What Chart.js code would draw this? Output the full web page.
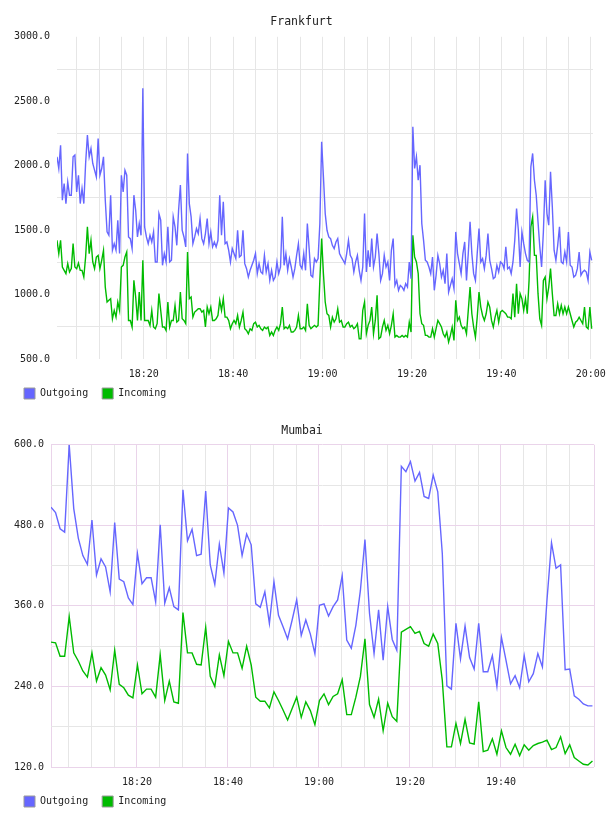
<!DOCTYPE html>
<html>
<head>
<meta charset="utf-8">
<script src="https://cdn.jsdelivr.net/npm/chart.js@4.4.0/dist/chart.umd.min.js"></script>
<style>
  html, body { margin:0; padding:0; background:#fff; overflow:hidden; width:608px; height:816px; }
  .box { position:absolute; left:0; width:608px; height:415px; }
  #boxF { top:0; }
  #boxM { top:408px; }
</style>
</head>
<body>
<div class="box" id="boxF"><canvas id="frankfurt"></canvas></div>
<div class="box" id="boxM"><canvas id="mumbai"></canvas></div>
<script>
/* ---------- data (minutes after 18:00) ---------- */
const SERIES_LABELS = ['Outgoing', 'Incoming'];

// Frankfurt: one sample every 0.4 min starting 18:00.6
const FRA_START = 0.6, FRA_STEP = 0.4;
const fraOutgoing = [
  2069,1978,2159,1732,1861,1706,1874,1771,1771,2069,2082,1797,1926,1706,1823,1706,2017,2237,2069,2133,
  2017,1965,1913,2211,1926,1978,2069,1732,1486,1460,1771,1344,1395,1344,1577,1318,1926,1797,1965,1926,
  1447,1434,1357,1771,1654,1447,1551,1460,2600,1525,1447,1395,1460,1408,1486,1253,1253,1628,1577,1227,
  1318,1253,1525,1253,1266,1603,1525,1382,1654,1849,1499,1447,1370,2095,
  1706,1603,1395,1447,1512,1473,1590,1434,1395,1473,1590,1395,1486,1370,1408,1370,1421,1771,1460,1719,
  1395,1408,1344,1253,1357,1318,1279,1499,1291,1304,1499,1240,1201,1136,1188,1227,1266,1318,1162,1240,
  1175,1162,1304,1175,1240,1110,1188,1110,1136,1253,1162,1214,1603,1227,1318,1188,1279,1214,1136,1201,
  1304,1395,1227,1201,1318,1188,1551,1357,1149,1136,1279,1253,1279,1551,
  2185,1913,1628,1499,1447,1434,1382,1357,1408,1434,1318,1291,1266,1240,1318,1421,1304,1279,1175,1253,
  1304,1188,1110,1214,1628,1175,1344,1214,1434,1214,1291,1473,1318,1110,1162,1304,1214,1253,1110,1344,
  1434,1071,1110,1033,1071,1058,1033,1084,1058,1253,1123,2302,1978,2069,1887,2004,1551,1421,1266,1253,
  1214,1162,1291,1033,1149,1304,1240,1136,1188,1084,1318,1019,1071,1123,1046,
  1486,1318,1240,1162,1318,1408,1110,1318,1564,1318,1162,1110,1318,1512,1253,1279,1201,1304,1473,1266,
  1201,1123,1136,1227,1175,1253,1240,1201,1370,1201,1214,1162,1253,1421,1667,1499,1214,1486,1395,1318,
  1266,1253,1991,2095,1887,1771,1564,1370,1214,1486,1887,1628,1538,1952,1680,1344,1266,1382,1525,1253,
  1240,1330,1253,1486,1227,1214,1136,1149,1201,1330,1149,1175,1188,1175,1110,1330,1266
];
const fraIncoming = [
  1421,1317,1421,1214,1188,1162,1240,1175,1201,1395,1214,1201,1245,1188,1188,1136,1291,1525,1317,1421,
  1253,1201,1291,1304,1201,1266,1343,1058,942,955,968,812,877,825,942,877,1214,1227,1291,1330,
  799,799,748,1110,981,799,1019,799,1266,799,799,799,760,877,748,735,774,1007,877,748,
  748,722,942,748,799,799,916,786,799,1019,812,799,774,1330,
  968,981,825,864,877,890,890,864,877,748,903,851,903,799,799,812,838,955,877,968,
  825,825,799,735,774,799,774,838,748,799,864,735,722,696,735,722,774,786,748,761,
  735,722,748,735,748,683,709,683,722,748,722,774,903,735,748,735,761,709,709,722,
  748,838,735,735,748,722,929,761,735,748,761,748,761,1110,
  1434,1162,942,851,838,748,825,786,812,890,786,799,748,748,774,786,748,761,735,748,
  774,657,657,877,942,696,761,799,903,696,799,994,657,670,748,799,722,761,696,761,
  851,670,683,670,670,683,670,683,670,786,709,1460,1291,1253,1162,851,774,761,683,683,
  670,670,735,670,735,799,774,748,696,670,709,631,683,748,644,
  955,799,825,761,735,748,696,877,1058,851,748,670,825,1019,903,838,799,851,942,903,
  799,748,825,877,786,864,877,864,851,825,825,812,1007,825,1084,851,1007,968,877,968,
  851,1110,1525,1602,1304,1304,1007,812,761,1110,1136,968,1058,1201,1007,838,838,929,851,916,
  851,903,851,903,851,799,748,786,799,825,799,774,903,748,735,903,735
];

// Mumbai: one sample per minute starting 18:01
const MUM_START = 1.1, MUM_STEP = 1;
const mumOutgoing = [
  507,499,475,470,600,505,461,435,422,488,406,430,418,381,484,400,396,372,362,438,
  393,402,402,366,481,364,387,359,354,533,457,474,435,437,531,421,392,452,409,506,
  500,480,435,467,451,363,358,381,334,396,346,329,311,339,369,316,339,318,289,361,
  363,345,359,369,405,309,297,331,383,459,349,289,354,279,359,310,294,568,560,575,
  546,559,523,520,555,530,438,241,236,334,281,330,283,266,334,262,262,286,240,313,
  279,244,256,238,286,247,259,289,269,368,454,416,421,265,266,226,221,214,211,211
];
const mumIncoming = [
  306,305,285,285,344,290,278,263,254,290,248,268,257,235,294,243,238,227,223,272,
  229,236,236,224,287,219,248,217,215,350,290,290,273,272,328,255,240,287,256,307,
  290,290,267,300,272,224,218,218,208,232,219,205,190,207,224,194,217,204,183,219,
  229,213,225,229,250,198,198,224,255,311,213,194,221,174,215,195,188,321,325,329,
  319,322,304,300,318,304,249,150,150,185,155,191,156,154,217,143,145,162,139,174,
  149,139,154,137,153,145,152,155,157,160,146,149,165,140,153,134,129,124,123,129
];

// axes
const FRA_Y = { min: 500, max: 3000, step: 250, labelEvery: 500 };
const MUM_Y = { min: 120, max: 600, step: 60, labelEvery: 120 };
const X_GRID_STEP = 5, X_LABEL_EVERY = 20;

/* ---------- helpers ---------- */
const BLUE = '#6666ff', GREEN = '#00bb00';
const GRID = '#e6e6e6', PINK = '#ead4ea';

const toPoints = (vals, start, step) => vals.map((v, i) => ({ x: start + i * step, y: v }));
const hhmm = m => {
  const h = 18 + Math.floor(m / 60), mm = Math.round(m % 60);
  return h + ':' + String(mm).padStart(2, '0');
};

Chart.defaults.font.family = "'DejaVu Sans Mono', monospace";
Chart.defaults.font.size = 10;
Chart.defaults.color = '#222';

// legend sits a little closer to the axis labels than Chart.js puts it
const legendNudge = {
  id: 'legendNudge',
  afterLayout(chart){
    const l = chart.legend;
    if (l) { l.top -= 6; l.bottom -= 6; }
  }
};

function legendOpts(){
  return {
    position: 'bottom',
    align: 'start',
    labels: {
      boxWidth: 11, boxHeight: 11, padding: 14,
      font: { size: 10 },
      generateLabels: chart => chart.data.datasets.map((ds, i) => ({
        text: ds.label, fillStyle: ds.borderColor, strokeStyle: '#9a9a9a',
        lineWidth: 1, hidden: false, datasetIndex: i, fontColor: '#222'
      }))
    }
  };
}

function makeChart(id, cfg){
  const xTicks = [];
  for (let m = X_GRID_STEP; m <= cfg.lastTick; m += X_GRID_STEP) xTicks.push(m);
  if (cfg.frame) { xTicks.unshift(cfg.xMin); xTicks.push(cfg.xMax); }

  return new Chart(document.getElementById(id), {
    type: 'line',
    plugins: [legendNudge],
    data: {
      datasets: [
        { label: SERIES_LABELS[0], data: toPoints(cfg.out, cfg.start, cfg.step), borderColor: BLUE, backgroundColor: BLUE },
        { label: SERIES_LABELS[1], data: toPoints(cfg.inc, cfg.start, cfg.step), borderColor: GREEN, backgroundColor: GREEN }
      ]
    },
    options: {
      responsive: true,
      maintainAspectRatio: false,
      animation: false,
      elements: {
        line: { borderWidth: 1.4, tension: 0, fill: false },
        point: { radius: 0, hoverRadius: 0 }
      },
      layout: { padding: { left: 10, right: cfg.padRight, top: 0, bottom: 0 } },
      plugins: {
        title: {
          display: true, text: cfg.title, color: '#222',
          font: { size: 11.5, weight: 'normal' },
          padding: { top: cfg.titleTop, bottom: 23 - cfg.titleTop }
        },
        legend: legendOpts(),
        tooltip: { enabled: false }
      },
      scales: {
        x: {
          type: 'linear',
          min: cfg.xMin, max: cfg.xMax,
          afterBuildTicks: s => { s.ticks = xTicks.map(v => ({ value: v })); },
          afterFit: s => { s.height = 21; s.paddingLeft = 0; s.paddingRight = 0; },
          ticks: {
            autoSkip: false, maxRotation: 0, padding: 9,
            callback: v => (v % X_LABEL_EVERY === 0 && Number.isInteger(v)) ? hhmm(v) : ''
          },
          grid: {
            drawTicks: false,
            color: c => {
              const v = c.tick ? c.tick.value : 0;
              if (!cfg.frame) return GRID;
              return (v === cfg.xMin || v === cfg.xMax || v % X_LABEL_EVERY === 0) ? PINK : GRID;
            }
          },
          border: { display: false }
        },
        y: {
          min: cfg.y.min, max: cfg.y.max,
          afterFit: s => { s.width = cfg.yWidth; },
          ticks: {
            stepSize: cfg.y.step, padding: 7,
            callback: v => v % cfg.y.labelEvery === 0 ? v.toFixed(1) : ''
          },
          grid: {
            drawTicks: false,
            color: c => {
              const v = c.tick ? c.tick.value : 0;
              const major = v % cfg.y.labelEvery === 0;
              if (cfg.frame) return major ? PINK : GRID;
              return major ? 'rgba(0,0,0,0)' : GRID;
            }
          },
          border: { display: false }
        }
      }
    }
  });
}

makeChart('frankfurt', {
  title: 'Frankfurt', titleTop: 15,
  out: fraOutgoing, inc: fraIncoming, start: FRA_START, step: FRA_STEP,
  xMin: 0.6, xMax: 120.5, lastTick: 120, y: FRA_Y, yWidth: 47, padRight: 15, frame: false
});

makeChart('mumbai', {
  title: 'Mumbai', titleTop: 16,
  out: mumOutgoing, inc: mumIncoming, start: MUM_START, step: MUM_STEP,
  xMin: 1.1, xMax: 120.44, lastTick: 115, y: MUM_Y, yWidth: 41, padRight: 14, frame: true
});
</script>
</body>
</html>
